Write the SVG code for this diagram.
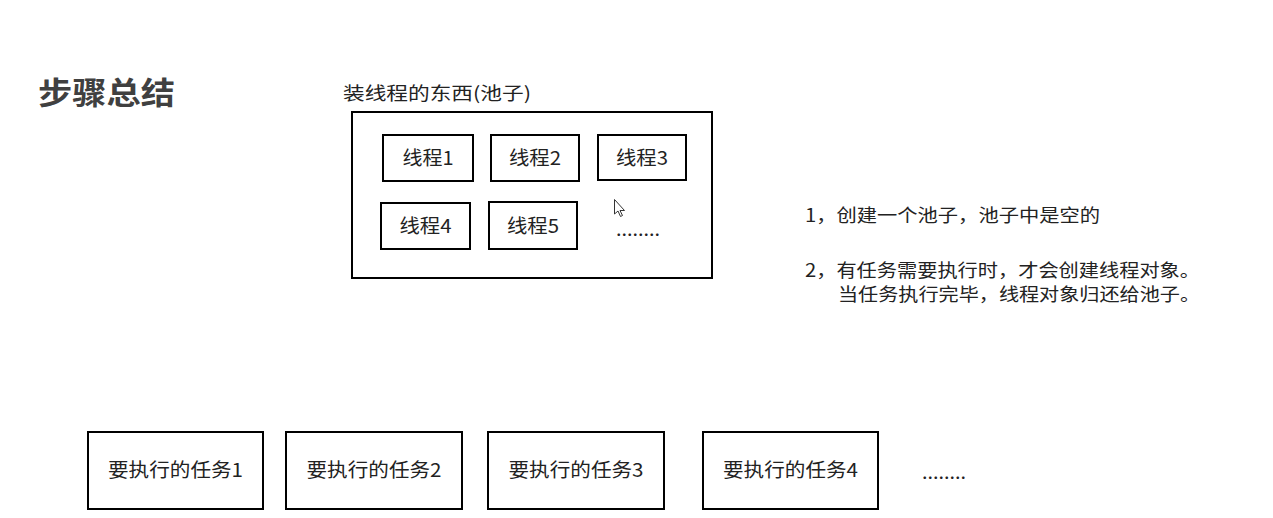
<svg xmlns="http://www.w3.org/2000/svg" width="1273" height="518" viewBox="0 0 1273 518">
<style>
text{font-family:"Microsoft YaHei","Noto Sans CJK SC","Noto Sans",sans-serif;fill:#222}
.box{fill:#fff;stroke:#000;stroke-width:2}
.lbl{font-size:19px;text-anchor:middle}
.txt{font-size:18px}
</style>
<rect width="1273" height="518" fill="#fff"/>
<text x="38" y="104" style="font-size:31px;font-weight:bold;fill:#404040" textLength="137" lengthAdjust="spacingAndGlyphs">步骤总结</text>
<g id="pool">
<text x="343" y="100" class="txt" textLength="188" lengthAdjust="spacingAndGlyphs">装线程的东西(池子)</text>
<rect class="box" x="352" y="112" width="360" height="166"/>
</g>
<g id="t1"><rect class="box" x="383" y="135" width="90" height="46"/><text class="lbl" x="428" y="165" textLength="51" lengthAdjust="spacingAndGlyphs">线程1</text></g>
<g id="t2"><rect class="box" x="491" y="135" width="88" height="46"/><text class="lbl" x="535" y="165" textLength="52" lengthAdjust="spacingAndGlyphs">线程2</text></g>
<g id="t3"><rect class="box" x="598" y="135" width="88" height="45"/><text class="lbl" x="642" y="165" textLength="52" lengthAdjust="spacingAndGlyphs">线程3</text></g>
<g id="t4"><rect class="box" x="381" y="203" width="89" height="46"/><text class="lbl" x="425.5" y="233" textLength="52" lengthAdjust="spacingAndGlyphs">线程4</text></g>
<g id="t5"><rect class="box" x="489" y="202" width="88" height="47"/><text class="lbl" x="533" y="233" textLength="52" lengthAdjust="spacingAndGlyphs">线程5</text></g>
<text x="616" y="236" class="txt" textLength="44" lengthAdjust="spacingAndGlyphs">........</text>
<path d="M614.5 199.5 L614.5 214 L618 211 L620.5 216.5 L622.5 215.5 L620 210.5 L624.5 210.5 Z" fill="#fff" stroke="#333" stroke-width="1"/>
<g id="notes">
<text x="805" y="222" class="txt" textLength="295" lengthAdjust="spacingAndGlyphs">1，创建一个池子，池子中是空的</text>
<text x="805" y="277" class="txt" textLength="395" lengthAdjust="spacingAndGlyphs">2，有任务需要执行时，才会创建线程对象。</text>
<text x="838" y="301" class="txt" textLength="362" lengthAdjust="spacingAndGlyphs">当任务执行完毕，线程对象归还给池子。</text>
</g>
<g id="task1"><rect class="box" x="88" y="432" width="175" height="77"/><text class="lbl" x="175.5" y="477" textLength="135" lengthAdjust="spacingAndGlyphs">要执行的任务1</text></g>
<g id="task2"><rect class="box" x="286" y="432" width="176" height="77"/><text class="lbl" x="374" y="477" textLength="135" lengthAdjust="spacingAndGlyphs">要执行的任务2</text></g>
<g id="task3"><rect class="box" x="488" y="432" width="176" height="77"/><text class="lbl" x="576" y="477" textLength="135" lengthAdjust="spacingAndGlyphs">要执行的任务3</text></g>
<g id="task4"><rect class="box" x="703" y="432" width="175" height="77"/><text class="lbl" x="790.5" y="477" textLength="135" lengthAdjust="spacingAndGlyphs">要执行的任务4</text></g>
<text x="922" y="479" class="txt" textLength="44" lengthAdjust="spacingAndGlyphs">........</text>
<g id="connectors"/>
</svg>
